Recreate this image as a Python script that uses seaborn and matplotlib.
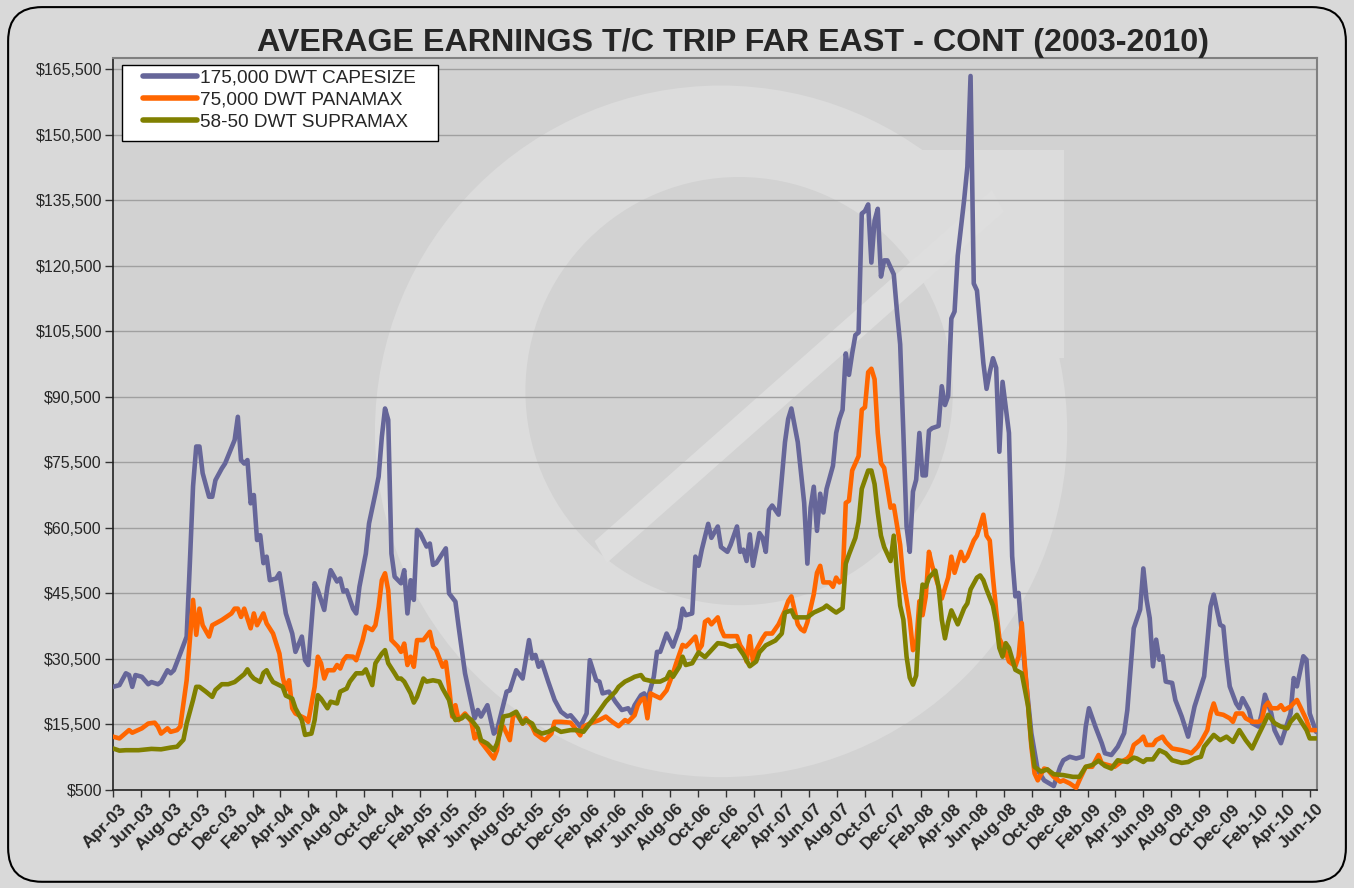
import numpy as np
import pandas as pd
import seaborn as sns
import matplotlib
matplotlib.use("Agg")
import matplotlib.pyplot as plt
import matplotlib.dates as mdates
import matplotlib.transforms as mtransforms
from matplotlib.patches import Ellipse, FancyBboxPatch, Polygon, Rectangle
from matplotlib.ticker import FuncFormatter, FixedLocator

# weekly readings, week 0 = first week of April 2003, values in $ thousands
START = pd.Timestamp("2003-04-01")

cape_weeks = [0, 2, 4, 5, 6, 7, 9, 11, 12, 14, 15, 17, 18, 19, 21, 23, 24, 25, 26, 27, 28, 30, 31, 32, 34, 35,
              38, 39, 40, 41, 42, 43, 44, 45, 46, 47, 48, 49, 51, 52, 54, 56, 57, 59, 60, 61, 63, 64, 66, 67, 68,
              70, 71, 72, 73, 75, 76, 77, 79, 80, 82, 83, 84, 85, 86, 87, 88, 90, 91, 92, 93, 94, 95, 96, 98, 99,
              100, 101, 104, 105, 107, 108, 110, 112, 113, 114, 115, 117, 119, 120, 123, 124, 126, 128, 130, 131,
              132, 133, 134, 136, 138, 140, 142, 143, 146, 148, 149, 151, 152, 153, 155, 157, 159, 161, 162, 163,
              165, 166, 167, 169, 170, 171, 173, 174, 175, 177, 178, 179, 181, 182, 183, 184, 186, 187, 189, 190,
              192, 193, 195, 196, 197, 198, 199, 200, 202, 203, 204, 205, 206, 208, 210, 211, 212, 214, 216, 217,
              218, 219, 220, 221, 222, 223, 225, 226, 227, 228, 229, 230, 231, 232, 233, 234, 235, 236, 237, 238,
              239, 240, 241, 242, 244, 245, 246, 247, 248, 249, 250, 251, 252, 253, 254, 255, 256, 258, 259, 260,
              261, 262, 263, 264, 266, 267, 268, 269, 270, 272, 273, 274, 275, 276, 277, 278, 280, 281, 282, 283,
              284, 285, 287, 289, 291, 294, 296, 297, 299, 301, 303, 304, 305, 307, 309, 310, 312, 314, 316, 317,
              319, 321, 322, 323, 324, 325, 326, 327, 328, 329, 331, 332, 334, 336, 338, 339, 341, 343, 344, 346,
              347, 348, 349, 351, 352, 353, 355, 356, 358, 359, 360, 362, 363, 365, 366, 368, 369, 370, 372, 373,
              374, 376]
cape_k = [24.1, 24.5, 27.2, 26.8, 24.1, 26.8, 26.4, 24.7, 25.2, 24.7, 25.2, 27.9, 27.2, 27.9, 31.7, 35.6, 52.4,
          70.0, 79.1, 79.1, 73.0, 67.6, 67.6, 71.4, 74.1, 75.2, 80.6, 85.9, 76.0, 75.2, 76.0, 66.1, 68.0, 57.7,
          58.8, 52.4, 53.9, 48.5, 48.9, 50.1, 40.9, 36.3, 32.1, 35.6, 30.2, 29.1, 47.8, 46.2, 41.7, 47.0, 50.8,
          48.2, 48.9, 45.9, 46.2, 42.0, 40.9, 47.0, 54.6, 61.5, 68.4, 72.2, 81.3, 87.8, 85.2, 54.6, 49.3, 47.8,
          50.8, 40.9, 48.5, 44.0, 60.0, 59.2, 56.2, 56.9, 52.0, 52.4, 55.8, 45.5, 43.6, 37.9, 27.2, 20.3, 16.9,
          18.8, 17.3, 19.9, 13.4, 14.2, 23.0, 23.3, 27.9, 26.0, 34.8, 30.6, 31.4, 28.7, 29.8, 25.3, 21.1, 18.4,
          17.3, 17.6, 15.0, 18.0, 30.2, 25.6, 25.3, 22.6, 23.0, 20.7, 18.8, 19.2, 18.0, 19.9, 22.2, 22.6, 21.1,
          26.4, 32.1, 32.1, 36.3, 34.8, 33.3, 37.5, 42.0, 40.5, 40.9, 53.9, 51.8, 55.5, 61.4, 58.2, 60.8, 56.1,
          55.0, 56.6, 60.8, 55.0, 55.5, 52.9, 59.0, 51.8, 59.3, 58.2, 55.0, 64.6, 65.6, 63.5, 80.1, 85.4, 87.8,
          80.1, 66.2, 52.3, 65.1, 69.9, 59.8, 68.3, 64.0, 69.4, 74.7, 82.2, 85.4, 87.5, 100.4, 95.5, 100.4,
          104.6, 105.2, 132.4, 133.0, 134.5, 121.2, 130.8, 133.5, 118.0, 121.7, 121.7, 118.5, 110.0, 102.5,
          82.2, 60.8, 55.0, 68.8, 71.5, 82.2, 72.5, 72.5, 82.7, 83.3, 83.8, 92.9, 88.6, 90.7, 108.4, 110.0,
          122.8, 135.6, 143.1, 163.9, 116.4, 114.8, 98.2, 92.3, 96.1, 99.3, 97.1, 77.9, 93.9, 82.2, 54.0, 44.8,
          45.6, 36.4, 28.0, 13.5, 5.0, 2.7, 1.4, 5.8, 7.3, 8.1, 7.7, 8.1, 15.0, 19.2, 15.0, 11.2, 8.9, 8.5, 10.4,
          13.5, 18.8, 37.5, 41.8, 51.2, 44.1, 39.8, 28.8, 34.9, 30.3, 31.1, 25.3, 25.0, 21.1, 17.3, 12.7, 19.6,
          21.9, 26.5, 42.5, 45.2, 38.3, 37.9, 30.3, 24.2, 20.3, 19.2, 21.5, 18.8, 15.8, 15.0, 18.0, 22.3, 18.0,
          14.2, 11.2, 13.5, 18.0, 26.1, 24.2, 31.1, 30.3, 18.0, 13.8]

pana_weeks = [0, 2, 5, 6, 9, 11, 13, 14, 15, 17, 18, 20, 21, 23, 25, 26, 27, 28, 30, 31, 32, 34, 37, 38, 39, 40,
              41, 43, 44, 45, 47, 48, 50, 51, 52, 53, 54, 55, 56, 57, 60, 61, 63, 64, 65, 66, 67, 69, 70, 71, 72,
              73, 75, 76, 78, 79, 81, 82, 83, 84, 85, 86, 87, 89, 90, 91, 92, 93, 94, 95, 97, 99, 100, 101, 103,
              104, 105, 106, 107, 108, 110, 112, 113, 114, 115, 117, 119, 120, 121, 122, 124, 125, 126, 128, 129,
              131, 132, 134, 135, 137, 138, 140, 143, 144, 146, 147, 149, 152, 154, 156, 158, 160, 161, 163, 164,
              165, 166, 167, 168, 169, 171, 173, 175, 176, 178, 179, 180, 182, 183, 184, 185, 186, 187, 189, 190,
              191, 195, 196, 197, 198, 199, 200, 201, 203, 204, 206, 208, 210, 211, 212, 213, 214, 215, 216, 217,
              219, 220, 221, 222, 224, 225, 226, 227, 228, 229, 230, 231, 233, 234, 235, 236, 237, 238, 239, 240,
              241, 243, 244, 246, 247, 249, 250, 251, 252, 253, 254, 255, 256, 258, 259, 261, 262, 263, 265, 266,
              267, 269, 270, 272, 273, 274, 275, 276, 277, 279, 280, 282, 283, 284, 285, 286, 287, 288, 289, 291,
              292, 294, 296, 297, 299, 301, 302, 304, 306, 308, 309, 311, 313, 315, 317, 318, 319, 321, 322, 323,
              325, 326, 328, 329, 331, 334, 336, 337, 339, 340, 342, 343, 344, 345, 347, 349, 350, 351, 353, 354,
              356, 358, 359, 360, 361, 362, 364, 365, 366, 368, 370, 371, 373, 374, 376]
pana_k = [12.7, 12.3, 14.2, 13.6, 14.6, 15.7, 15.9, 15.0, 13.4, 14.6, 13.8, 14.2, 15.0, 25.6, 44.0, 36.0, 42.0,
          38.2, 35.6, 38.2, 38.6, 39.4, 40.9, 42.0, 42.0, 40.1, 42.0, 37.5, 40.9, 38.2, 40.9, 38.6, 36.3, 34.0,
          31.7, 26.4, 23.4, 25.6, 19.2, 18.0, 16.9, 16.1, 24.1, 31.0, 29.5, 26.0, 27.9, 27.9, 29.1, 28.3, 30.2,
          31.1, 31.0, 30.2, 34.8, 37.9, 37.1, 38.2, 42.4, 48.5, 50.1, 46.2, 34.8, 33.3, 32.1, 34.0, 29.1, 31.0,
          28.7, 34.8, 34.8, 36.7, 33.3, 32.5, 28.7, 29.8, 24.1, 17.3, 19.9, 16.5, 18.0, 16.1, 12.3, 13.4, 11.5,
          9.6, 7.7, 9.6, 15.0, 15.0, 11.9, 17.3, 18.0, 15.7, 16.9, 15.0, 13.4, 12.3, 11.9, 13.4, 16.1, 16.1,
          15.9, 15.0, 13.0, 15.0, 15.7, 16.5, 17.3, 16.1, 15.1, 16.5, 16.1, 17.6, 19.9, 21.1, 21.5, 16.9, 22.6,
          22.2, 21.5, 23.3, 27.2, 29.5, 33.7, 33.3, 34.0, 35.6, 32.5, 33.6, 39.0, 39.5, 38.4, 40.0, 37.3, 35.7,
          35.7, 33.6, 32.5, 29.9, 35.7, 29.9, 32.5, 35.2, 36.3, 36.3, 38.4, 41.6, 43.7, 44.8, 41.6, 38.4, 37.3,
          36.8, 38.9, 45.3, 50.2, 51.8, 48.0, 48.0, 47.0, 49.1, 48.0, 48.5, 66.2, 66.7, 73.6, 76.9, 87.5, 88.1,
          96.1, 96.9, 94.5, 82.2, 75.3, 74.2, 65.1, 65.6, 56.6, 48.5, 39.5, 32.5, 33.6, 43.7, 40.5, 44.8, 55.0,
          51.8, 47.0, 44.3, 49.1, 53.9, 50.2, 55.0, 52.9, 53.9, 57.6, 58.7, 63.5, 58.7, 57.6, 49.1, 41.6, 35.2,
          32.0, 29.9, 28.8, 31.0, 38.7, 28.8, 19.6, 10.4, 4.3, 2.7, 5.4, 5.2, 3.5, 2.4, 2.7, 2.0, 1.0, 2.7, 5.8,
          5.8, 8.5, 6.6, 6.2, 5.8, 6.9, 7.7, 8.5, 10.8, 11.9, 12.7, 10.8, 10.8, 11.9, 12.7, 11.5, 10.0, 9.6,
          9.2, 8.9, 10.4, 11.5, 14.2, 18.0, 20.3, 18.0, 17.7, 16.9, 16.1, 18.0, 18.0, 16.9, 16.1, 16.1, 16.5,
          19.6, 20.5, 19.2, 19.2, 19.9, 18.8, 19.6, 21.1, 19.6, 16.5, 14.2, 14.2]

supra_weeks = [0, 2, 4, 8, 12, 15, 18, 20, 22, 23, 25, 26, 27, 29, 31, 32, 34, 36, 38, 40, 41, 42, 43, 44, 46,
               47, 48, 49, 50, 53, 54, 56, 57, 59, 60, 62, 63, 64, 65, 67, 68, 70, 71, 73, 74, 76, 78, 79, 81, 82,
               84, 85, 86, 88, 89, 90, 91, 93, 94, 95, 97, 98, 100, 102, 103, 105, 106, 107, 109, 110, 112, 114,
               115, 117, 119, 120, 121, 122, 124, 126, 128, 129, 131, 132, 134, 136, 138, 140, 143, 145, 147, 149,
               151, 154, 157, 158, 160, 162, 163, 165, 166, 169, 171, 173, 174, 175, 177, 178, 179, 181, 183, 185,
               187, 189, 191, 193, 195, 197, 199, 201, 202, 204, 207, 209, 210, 212, 213, 215, 217, 219, 222, 223,
               225, 226, 228, 229, 230, 232, 233, 234, 236, 237, 238, 239, 240, 241, 243, 244, 245, 246, 247, 248,
               249, 250, 251, 252, 253, 254, 255, 257, 258, 259, 260, 261, 262, 264, 266, 267, 268, 270, 271, 272,
               273, 275, 276, 277, 278, 279, 280, 282, 283, 284, 286, 287, 288, 290, 292, 294, 297, 300, 302, 304,
               306, 308, 310, 312, 314, 317, 319, 320, 322, 323, 325, 327, 329, 331, 334, 336, 338, 340, 341, 344,
               346, 348, 350, 352, 354, 356, 358, 360, 361, 363, 365, 367, 368, 370, 371, 373, 374, 376]
supra_k = [10.0, 9.5, 9.6, 9.6, 9.9, 9.8, 10.2, 10.4, 12.0, 15.7, 21.1, 24.1, 24.1, 23.0, 21.8, 23.4, 24.7, 24.7,
           25.2, 26.4, 27.0, 28.1, 26.8, 26.0, 25.2, 27.3, 27.9, 26.4, 25.2, 24.1, 22.1, 21.4, 19.2, 16.5, 13.1,
           13.4, 16.5, 22.2, 21.4, 19.2, 20.7, 20.3, 23.0, 23.7, 25.3, 27.2, 27.2, 28.1, 24.5, 29.5, 31.7, 32.5,
           29.5, 27.2, 26.0, 26.0, 25.3, 22.6, 20.5, 21.8, 26.0, 25.3, 25.6, 25.3, 23.7, 21.1, 18.0, 16.5, 16.9,
           17.6, 16.5, 14.6, 11.9, 11.1, 9.6, 11.1, 13.8, 17.3, 17.6, 18.4, 15.7, 16.5, 15.7, 14.2, 13.4, 13.8,
           14.6, 13.8, 14.2, 14.2, 13.8, 15.7, 17.6, 20.7, 23.0, 24.1, 25.3, 26.0, 26.4, 26.8, 25.8, 25.3, 25.3,
           26.0, 27.5, 26.4, 28.7, 31.0, 29.1, 29.5, 32.0, 30.9, 32.5, 34.1, 33.9, 33.3, 33.6, 31.5, 28.8, 29.9,
           32.0, 33.6, 34.7, 36.3, 41.1, 41.6, 40.0, 40.0, 40.0, 41.1, 42.1, 42.7, 41.6, 41.1, 42.1, 52.3, 54.4,
           58.2, 61.9, 69.4, 73.6, 73.6, 70.5, 64.0, 58.7, 56.1, 52.9, 58.7, 50.2, 42.7, 39.5, 31.0, 26.2, 24.6,
           26.7, 39.5, 47.5, 47.0, 49.1, 50.7, 47.0, 39.5, 35.2, 38.9, 41.6, 38.4, 42.1, 43.2, 46.4, 49.1, 49.6,
           48.5, 46.4, 42.7, 38.9, 33.0, 31.0, 34.1, 33.0, 28.0, 27.6, 27.2, 19.6, 11.2, 5.8, 4.7, 5.2, 4.1, 3.9,
           3.5, 3.5, 5.8, 6.2, 7.2, 6.0, 5.4, 7.3, 6.9, 7.9, 7.7, 6.9, 7.5, 7.5, 9.6, 8.9, 7.3, 6.7, 6.9, 7.7,
           8.1, 10.4, 13.1, 11.9, 12.7, 11.5, 14.2, 11.9, 10.0, 13.1, 16.1, 17.7, 15.8, 15.0, 14.6, 16.1, 17.7,
           16.5, 14.2, 12.3, 12.3]

series_names = ["175,000 DWT CAPESIZE", "75,000 DWT PANAMAX", "58-50 DWT SUPRAMAX"]
series_colors = ["#666699", "#FF6600", "#808000"]
y_ticks = list(range(500, 165501, 15000))

frames = []
for name, weeks, vals in zip(series_names,
                             [cape_weeks, pana_weeks, supra_weeks],
                             [cape_k, pana_k, supra_k]):
    frames.append(pd.DataFrame({
        "date": START + pd.to_timedelta(np.array(weeks) * 7, unit="D"),
        "earnings": np.array(vals) * 1000,
        "series": name,
    }))
df = pd.concat(frames, ignore_index=True)

sns.set_theme(style="white")
plt.rcParams["font.family"] = ["Liberation Sans", "DejaVu Sans"]

fig = plt.figure(figsize=(13.54, 8.88), dpi=100, facecolor="#d9d9d9")
ax = fig.add_axes([0.0835, 0.1104, 0.8892, 0.8242])
ax.set_facecolor("#d2d2d2")

# faint watermark logo behind the data
wm = dict(transform=ax.transAxes, zorder=0, lw=0)
ax.add_patch(Ellipse((0.505, 0.49), 0.575, 0.945, fc="#dcdcdc", **wm))
ax.add_patch(Polygon([(0.49, 0.874), (0.79, 0.874), (0.79, 0.59), (0.49, 0.59)], fc="#dcdcdc", **wm))
ax.add_patch(Ellipse((0.52, 0.545), 0.355, 0.585, fc="#d2d2d2", **wm))
ax.add_patch(Polygon([(0.40, 0.34), (0.41, 0.31), (0.74, 0.79), (0.73, 0.82)], fc="#dedede", **wm))

sns.lineplot(data=df, x="date", y="earnings", hue="series", hue_order=series_names,
             palette=series_colors, linewidth=3.3, estimator=None, ax=ax, zorder=3)

ax.set_ylim(500, 168000)
ax.set_xlim(START, START + pd.Timedelta(days=376 * 7 + 2))
ax.yaxis.set_major_locator(FixedLocator(y_ticks))
ax.yaxis.set_major_formatter(FuncFormatter(lambda v, p: f"${v:,.0f}"))
ax.grid(axis="y", color="#a0a0a0", lw=1.0, zorder=1)
ax.set_axisbelow(True)

ax.xaxis.set_major_locator(mdates.MonthLocator(bymonth=[2, 4, 6, 8, 10, 12]))
ax.xaxis.set_major_formatter(mdates.DateFormatter("%b-%y"))
ax.tick_params(axis="x", length=5, width=1, color="#333333", direction="out", pad=3)
ax.tick_params(axis="y", length=6, width=1, color="#333333", direction="out", pad=2)
ax.tick_params(left=True, bottom=True)
shift = mtransforms.ScaledTranslation(6 / 100, 0, fig.dpi_scale_trans)
for lab in ax.get_xticklabels():
    lab.set_rotation(45)
    lab.set_ha("right")
    lab.set_va("top")
    lab.set_rotation_mode("anchor")
    lab.set_fontweight("bold")
    lab.set_fontsize(12.5)
    lab.set_transform(lab.get_transform() + shift)
for lab in ax.get_yticklabels():
    lab.set_fontsize(11.5)
ax.set_xlabel("")
ax.set_ylabel("")

for side in ["left", "bottom"]:
    ax.spines[side].set_color("#222222")
    ax.spines[side].set_linewidth(1.2)
for side in ["top", "right"]:
    ax.spines[side].set_visible(True)
    ax.spines[side].set_color("#808080")
    ax.spines[side].set_linewidth(1.5)

# legend box drawn separately so the side padding can be wider than the vertical one
ax.add_patch(Rectangle((0.0075, 0.8866), 0.2625, 0.1038, transform=ax.transAxes,
                       fc="white", ec="black", lw=1.0, zorder=4))
handles, labels = ax.get_legend_handles_labels()
leg = ax.legend(handles, labels, loc="upper left", bbox_to_anchor=(0.0249, 0.985),
                borderaxespad=0, fontsize=13.7, frameon=False,
                handlelength=2.85, handletextpad=0.15, labelspacing=0.25, borderpad=0)
leg.set_zorder(5)
for line in leg.get_lines():
    line.set_linewidth(4)
    line.set_solid_capstyle("round")

fig.text(0.5413, 0.952, "AVERAGE EARNINGS T/C TRIP FAR EAST - CONT (2003-2010)",
         ha="center", va="center", fontsize=23.2, fontweight="bold")

# rounded chart border
fig.patches.append(FancyBboxPatch((0.006, 0.007), 0.988, 0.985,
                                  boxstyle="round,pad=0,rounding_size=0.025",
                                  transform=fig.transFigure, fc="none", ec="black", lw=1.5,
                                  mutation_aspect=1354 / 888))

fig.savefig("out.png", dpi=100, facecolor=fig.get_facecolor())
